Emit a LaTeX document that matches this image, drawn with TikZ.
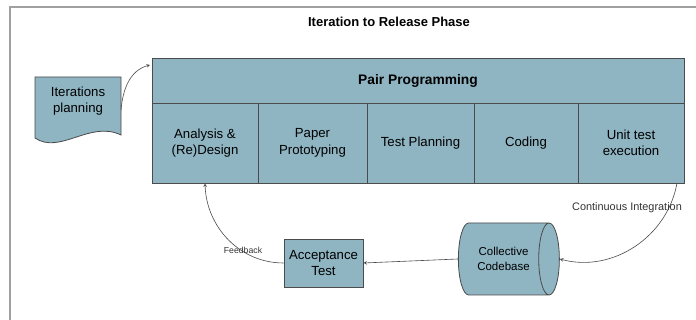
\documentclass[tikz,border=0pt]{standalone}
\usepackage{fontspec}
\setmainfont{Liberation Sans}
\usetikzlibrary{shapes.geometric}

\definecolor{boxfill}{RGB}{143,180,194}
\definecolor{boxline}{RGB}{75,75,75}
\definecolor{frameline}{RGB}{160,160,160}

\begin{document}
\begin{tikzpicture}[x=1pt, y=1pt, every node/.style={align=center, font=\fontsize{13.2}{16.5}\selectfont}, cell/.style={draw=boxline, fill=boxfill, line width=0.8pt, inner sep=0pt, minimum height=80}, header/.style={cell, minimum height=45, minimum width=532, font=\fontsize{13.8}{16.5}\selectfont\bfseries}, codebase/.style={cylinder, draw=boxline, fill=boxfill, line width=0.8pt, aspect=0.9, inner sep=0pt, minimum width=72, minimum height=101, font=\fontsize{11.5}{14.5}\selectfont}, flow/.style={draw=boxline, line width=0.6pt, -stealth}, note/.style={font=\fontsize{#1}{12}\selectfont, text=black!80}]

\useasboundingbox (0,0) rectangle (696,320);
\draw[frameline, line width=1.2pt] (10,0) -- (10,313) -- (696,313);
\node[font=\fontsize{13}{15}\selectfont\bfseries] (title) at (389,298) {Iteration to Release Phase};

% iterations planning (document)
\draw[boxline, fill=boxfill, line width=0.8pt] (35,243) -- (121,243) -- (121,185) .. controls (90,200) and (60,165) .. (35,182) -- cycle;
\node (plan) at (78,219) {Iterations\\planning};
\coordinate (planout) at (121,210);

% pair programming box
\node[header] (pair) at (418,239.5) {Pair Programming};
\node[cell, minimum width=106] (design) at (205,177) {Analysis \&\\(Re)Design};
\node[cell, minimum width=109] (paper) at (312.5,177) {Paper\\Prototyping};
\node[cell, minimum width=107] (testplan) at (420.5,177) {Test Planning};
\node[cell, minimum width=104] (coding) at (526,177) {Coding};
\node[cell, minimum width=106] (unit) at (631,177) {Unit test\\execution};

% lower row
\node[cell, minimum width=79, minimum height=48] (accept) at (323.5,57) {Acceptance\\Test};
\node[codebase] (code) at (503.5,61) {Collective\\Codebase};

\coordinate (pairin) at (150,255);
\coordinate (ciout) at (677,137);

\draw[flow] (planout) to[out=85, in=195] (pairin);
\draw[flow] (ciout) to[out=-100, in=-15] (code.top);
\draw[flow] (code.bottom) -- (accept.east);
\draw[flow] (accept.west) to[out=180, in=-88] (design.south);

\node[note=10.9] (ci) at (627,112) {Continuous Integration};
\node[note=8.7] (fb) at (243,70) {Feedback};
\end{tikzpicture}
\end{document}
